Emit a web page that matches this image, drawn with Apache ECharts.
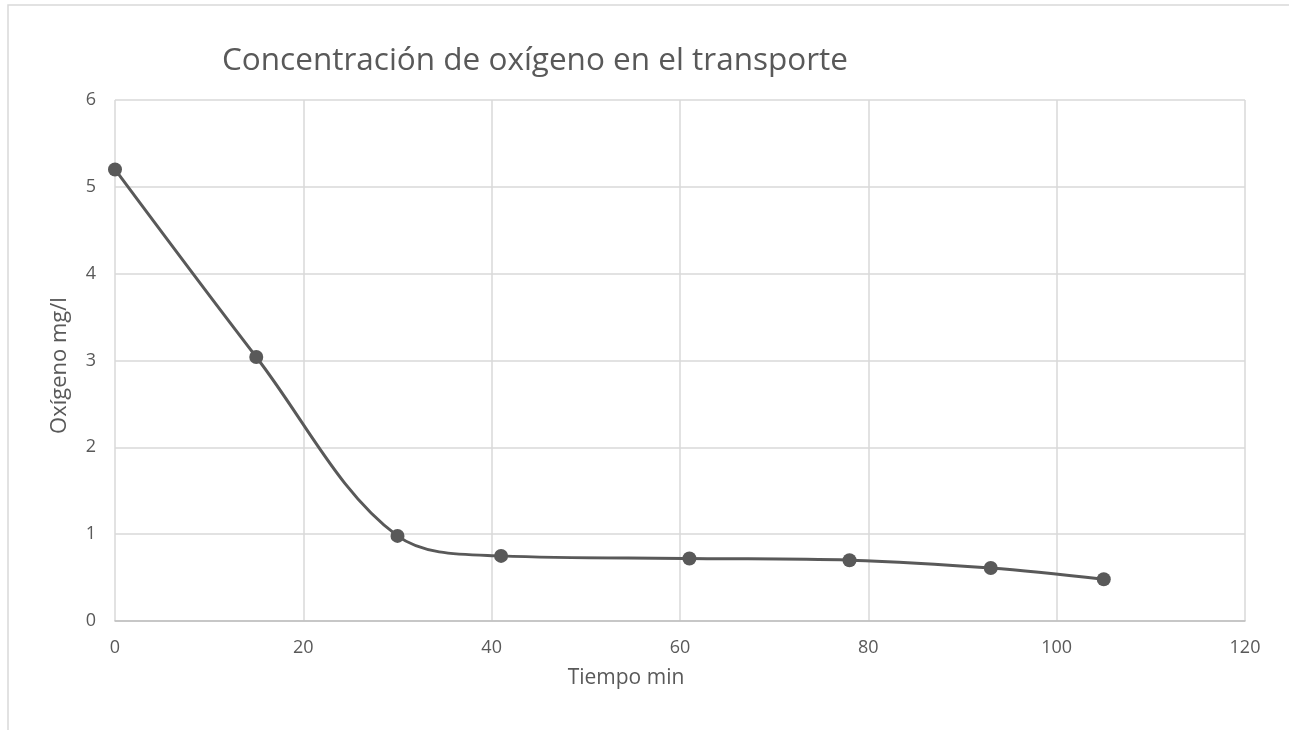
<!DOCTYPE html>
<html>
<head>
<meta charset="utf-8">
<script src="https://cdn.jsdelivr.net/npm/echarts@6/dist/echarts.min.js"></script>
<style>
  html, body { margin: 0; padding: 0; background: #fff; }
  #main { width: 1289px; height: 730px; }
</style>
</head>
<body>
<div id="main"></div>
<script>
// datos
var tiempo = [0, 15, 30, 41, 61, 78, 93, 105];
var oxigeno = [5.2, 3.04, 0.98, 0.75, 0.72, 0.7, 0.61, 0.48];

var myChart = echarts.init(document.getElementById('main'));

var puntos = tiempo.map(function (t, i) { return [t, oxigeno[i]]; });

var gris = '#595959';
var option = {
    backgroundColor: '#fff',
    textStyle: { fontFamily: 'Open Sans' },
    graphic: [{
        type: 'rect',
        shape: { x: 8, y: 5, width: 1400, height: 900 },
        style: { fill: 'none', stroke: '#d9d9d9', lineWidth: 1.5 },
        silent: true
    }],
    title: {
        text: 'Concentración de oxígeno en el transporte',
        left: 217,
        top: 40,
        textStyle: { fontSize: 31.5, fontWeight: 'normal', color: gris, fontFamily: 'Open Sans' }
    },
    grid: { left: 115, right: 44, top: 100, bottom: 109, containLabel: false },
    xAxis: {
        type: 'value',
        min: 0,
        max: 120,
        interval: 20,
        name: 'Tiempo min',
        nameLocation: 'middle',
        nameGap: 47,
        nameTextStyle: { fontSize: 21, color: gris, padding: [0, 108, 0, 0] },
        axisLine: { lineStyle: { color: '#bfbfbf', width: 1.5 } },
        axisTick: { show: false },
        axisLabel: { fontSize: 18, color: gris, margin: 18 },
        splitLine: { show: true, lineStyle: { color: '#d9d9d9', width: 1.5 } }
    },
    yAxis: {
        type: 'value',
        min: 0,
        max: 6,
        interval: 1,
        name: 'Oxígeno mg/l',
        nameLocation: 'middle',
        nameGap: 44,
        nameTextStyle: { fontSize: 22, color: gris, padding: [0, 10, 0, 0] },
        axisLine: { show: false },
        axisTick: { show: false },
        axisLabel: { fontSize: 18, color: gris, margin: 19 },
        splitLine: { show: true, lineStyle: { color: '#d9d9d9', width: 1.5 } }
    },
    series: [{
        type: 'line',
        data: puntos,
        smooth: 0.35,
        symbol: 'circle',
        symbolSize: 14,
        lineStyle: { color: gris, width: 3 },
        itemStyle: { color: gris },
        animation: false
    }]
};
myChart.setOption(option);
</script>
</body>
</html>
